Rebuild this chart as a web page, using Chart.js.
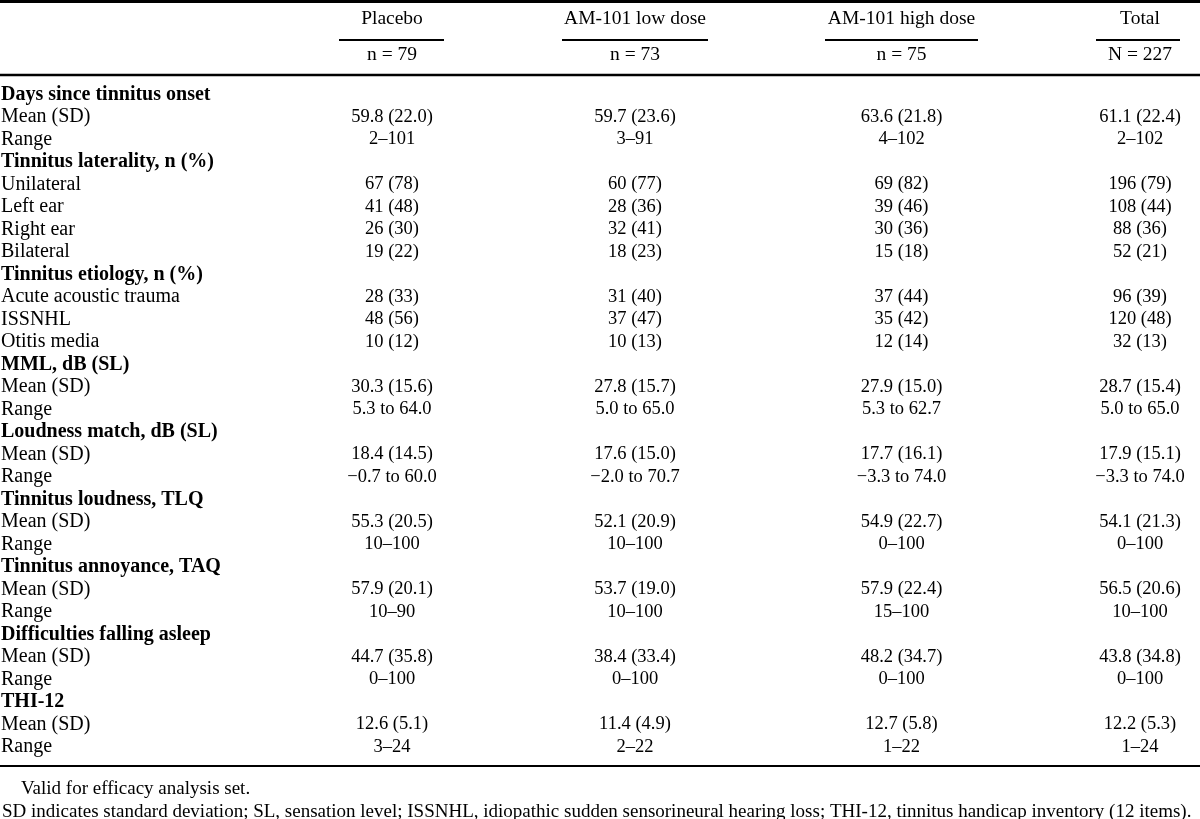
<!DOCTYPE html>
<html lang="en">

<head>
  <meta charset="UTF-8">
  <title>Baseline characteristics</title>
  <style>
    body { margin: 0; background: #fff; }
  </style>
</head>

<body>
  <canvas id="chart" width="1200" height="819"></canvas>
  <script src="https://cdn.jsdelivr.net/npm/chart.js@4/dist/chart.umd.min.js"></script>
  <script>
    // column headers
    const groups = ['Placebo', 'AM-101 low dose', 'AM-101 high dose', 'Total']
    const groupN = ['n = 79', 'n = 73', 'n = 75', 'N = 227']

    // row labels, bold ones are the section headings
    const rowLabels = [
      'Days since tinnitus onset', 'Mean (SD)', 'Range',
      'Tinnitus laterality, n (%)', 'Unilateral', 'Left ear', 'Right ear', 'Bilateral',
      'Tinnitus etiology, n (%)', 'Acute acoustic trauma', 'ISSNHL', 'Otitis media',
      'MML, dB (SL)', 'Mean (SD)', 'Range',
      'Loudness match, dB (SL)', 'Mean (SD)', 'Range',
      'Tinnitus loudness, TLQ', 'Mean (SD)', 'Range',
      'Tinnitus annoyance, TAQ', 'Mean (SD)', 'Range',
      'Difficulties falling asleep', 'Mean (SD)', 'Range',
      'THI-12', 'Mean (SD)', 'Range'
    ]
    const headingRows = [0, 3, 8, 12, 15, 18, 21, 24, 27]

    const placebo = ['', '59.8 (22.0)', '2–101', '', '67 (78)', '41 (48)', '26 (30)', '19 (22)',
      '', '28 (33)', '48 (56)', '10 (12)', '', '30.3 (15.6)', '5.3 to 64.0',
      '', '18.4 (14.5)', '−0.7 to 60.0', '', '55.3 (20.5)', '10–100',
      '', '57.9 (20.1)', '10–90', '', '44.7 (35.8)', '0–100', '', '12.6 (5.1)', '3–24']
    const lowDose = ['', '59.7 (23.6)', '3–91', '', '60 (77)', '28 (36)', '32 (41)', '18 (23)',
      '', '31 (40)', '37 (47)', '10 (13)', '', '27.8 (15.7)', '5.0 to 65.0',
      '', '17.6 (15.0)', '−2.0 to 70.7', '', '52.1 (20.9)', '10–100',
      '', '53.7 (19.0)', '10–100', '', '38.4 (33.4)', '0–100', '', '11.4 (4.9)', '2–22']
    const highDose = ['', '63.6 (21.8)', '4–102', '', '69 (82)', '39 (46)', '30 (36)', '15 (18)',
      '', '37 (44)', '35 (42)', '12 (14)', '', '27.9 (15.0)', '5.3 to 62.7',
      '', '17.7 (16.1)', '−3.3 to 74.0', '', '54.9 (22.7)', '0–100',
      '', '57.9 (22.4)', '15–100', '', '48.2 (34.7)', '0–100', '', '12.7 (5.8)', '1–22']
    const total = ['', '61.1 (22.4)', '2–102', '', '196 (79)', '108 (44)', '88 (36)', '52 (21)',
      '', '96 (39)', '120 (48)', '32 (13)', '', '28.7 (15.4)', '5.0 to 65.0',
      '', '17.9 (15.1)', '−3.3 to 74.0', '', '54.1 (21.3)', '0–100',
      '', '56.5 (20.6)', '10–100', '', '43.8 (34.8)', '0–100', '', '12.2 (5.3)', '1–24']

    const footnotes = [
      'Valid for efficacy analysis set.',
      'SD indicates standard deviation; SL, sensation level; ISSNHL, idiopathic sudden sensorineural hearing loss; THI-12, tinnitus handicap inventory (12 items).'
    ]

    // layout (x in px units of the x scale, y in row units of the y scale)
    const ROW0 = 94.5
    const ROWH = 22.5
    const labelX = 1
    const colX = [392, 635, 901.5, 1140]
    const underline = [[339, 444], [562, 708], [825, 978], [1096, 1180]]
    const rowHeader = -3.36
    const rowN = -1.76
    const rowUnderline = -2.42
    const ruleTop = -4.13
    const ruleHead = -0.87
    const ruleBottom = 29.84
    const footRows = [30.87, 31.89]
    const footX = [21, 2]
    const FONT = '"Liberation Serif", "Times New Roman", serif'
    const SIZE_LABEL = 20
    const SIZE_HEAD = 19.5
    const SIZE_VALUE = 18.5
    const SIZE_FOOT = 19

    const columns = [placebo, lowDose, highDose, total]
    const datasets = [{
      label: 'labels',
      data: rowLabels.map((t, i) => ({ x: labelX, y: i })),
      texts: rowLabels,
      align: 'left',
      size: SIZE_LABEL
    }].concat(columns.map((col, c) => ({
      label: groups[c],
      data: col.map((t, i) => ({ x: colX[c], y: i })),
      texts: col,
      align: 'center',
      size: SIZE_VALUE
    })))
    datasets.forEach(d => { d.pointRadius = 0; d.pointHoverRadius = 0 })

    const tablePlugin = {
      id: 'table',
      afterDatasetsDraw(chart) {
        const ctx = chart.ctx
        const xs = chart.scales.x
        const ys = chart.scales.y
        const left = chart.chartArea.left
        const right = chart.chartArea.right
        ctx.save()
        ctx.fillStyle = '#000'
        ctx.textBaseline = 'middle'

        // cells
        chart.data.datasets.forEach((ds, di) => {
          const meta = chart.getDatasetMeta(di)
          ctx.textAlign = ds.align
          meta.data.forEach((pt, i) => {
            const t = ds.texts[i]
            if (!t) return
            const bold = di === 0 && headingRows.includes(i)
            ctx.font = (bold ? 'bold ' : '') + ds.size + 'px ' + FONT
            ctx.fillText(t, pt.x, pt.y)
          })
        })

        // column headers
        ctx.font = SIZE_HEAD + 'px ' + FONT
        ctx.textAlign = 'center'
        groups.forEach((g, c) => {
          ctx.fillText(g, xs.getPixelForValue(colX[c]), ys.getPixelForValue(rowHeader))
          ctx.fillText(groupN[c], xs.getPixelForValue(colX[c]), ys.getPixelForValue(rowN))
        })

        // rules
        ctx.strokeStyle = '#000'
        const rule = (y, w, x0, x1) => {
          ctx.lineWidth = w
          ctx.beginPath()
          ctx.moveTo(x0, y)
          ctx.lineTo(x1, y)
          ctx.stroke()
        }
        rule(ys.getPixelForValue(ruleTop), 3, left, right)
        rule(ys.getPixelForValue(ruleHead), 2.5, left, right)
        rule(ys.getPixelForValue(ruleBottom), 2, left, right)
        underline.forEach(u => {
          rule(ys.getPixelForValue(rowUnderline), 2, xs.getPixelForValue(u[0]), xs.getPixelForValue(u[1]))
        })

        // footnotes
        ctx.textAlign = 'left'
        ctx.font = SIZE_FOOT + 'px ' + FONT
        footnotes.forEach((f, i) => {
          ctx.fillText(f, xs.getPixelForValue(footX[i]), ys.getPixelForValue(footRows[i]))
        })
        ctx.restore()
      }
    }

    new Chart(document.getElementById('chart').getContext('2d'), {
      type: 'scatter',
      data: { datasets },
      options: {
        responsive: false,
        animation: false,
        layout: { padding: 0 },
        plugins: { legend: { display: false }, tooltip: { enabled: false } },
        scales: {
          x: { type: 'linear', display: false, min: 0, max: 1200 },
          y: { type: 'linear', display: false, reverse: true, min: -ROW0 / ROWH, max: (819 - ROW0) / ROWH }
        }
      },
      plugins: [tablePlugin]
    })
  </script>
</body>

</html>
